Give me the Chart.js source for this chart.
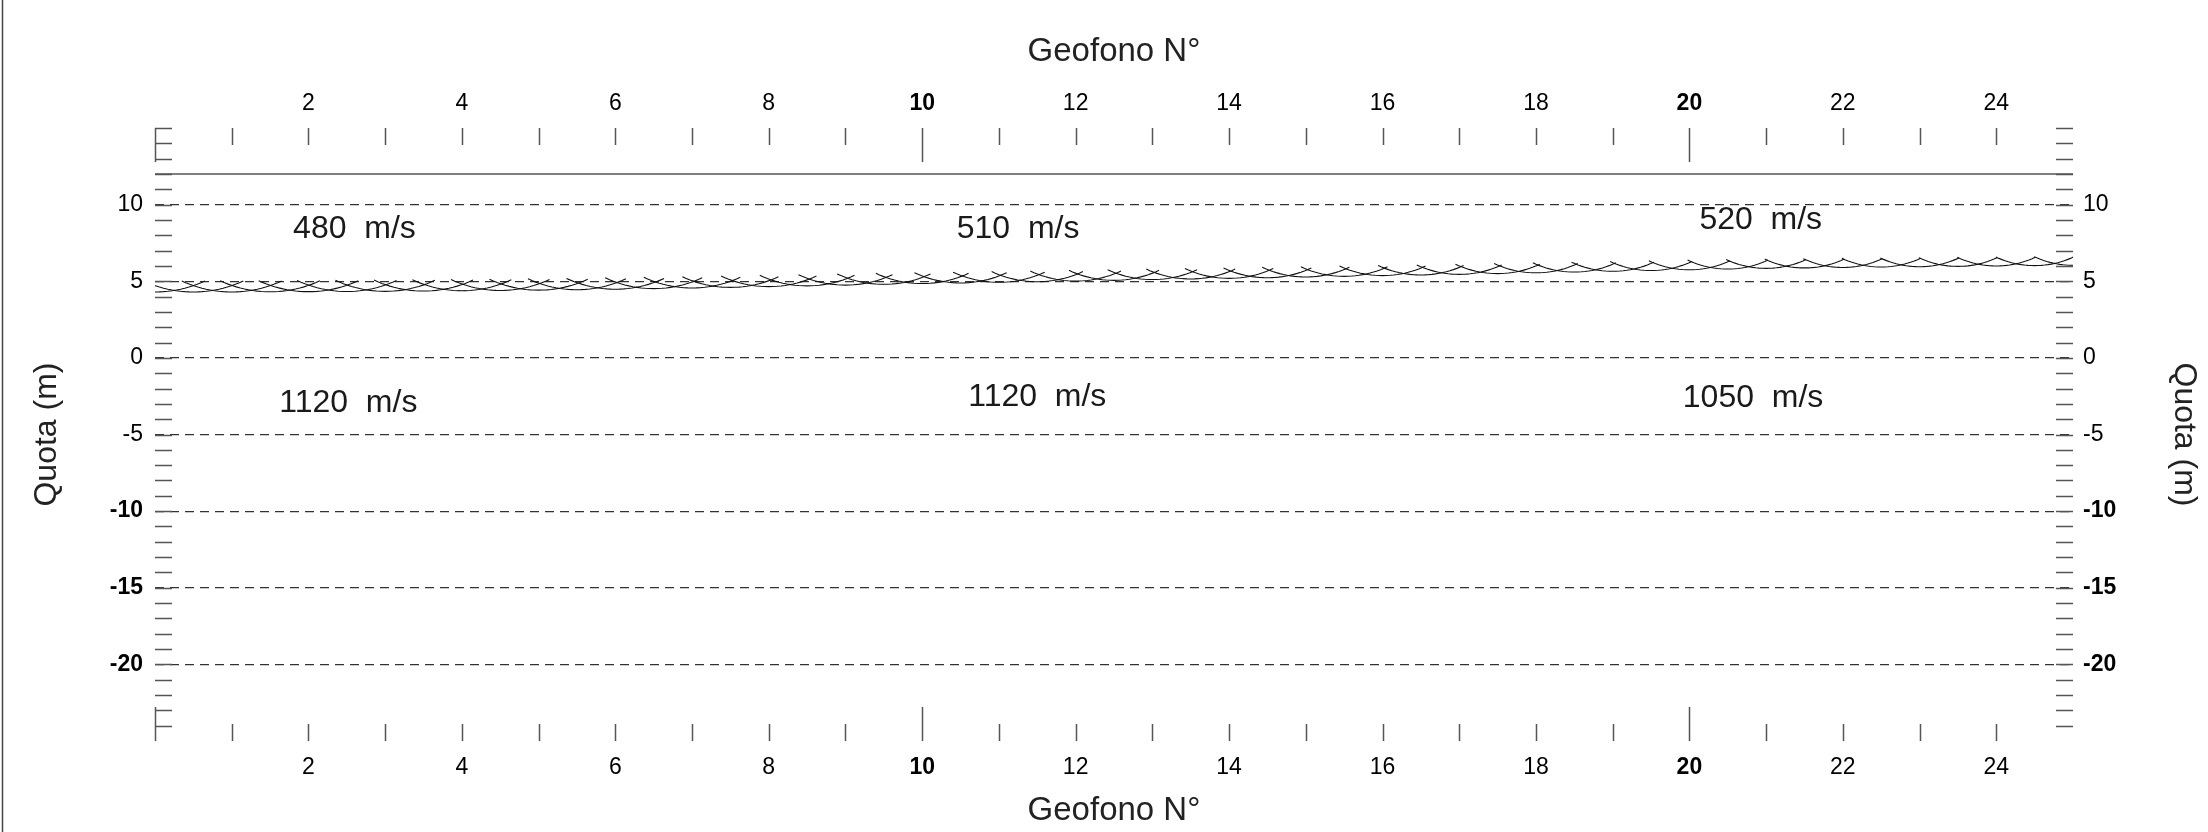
<!DOCTYPE html>
<html>
<head>
<meta charset="utf-8">
<title>Sezione sismica - Geofono N°</title>
<style>
  body { margin: 0; background: #fff; }
  .chart-container { position: relative; width: 2208px; height: 832px; }
</style>
</head>
<body>
<div class="chart-container"><canvas id="sezione"></canvas></div>

<script src="https://cdn.jsdelivr.net/npm/chart.js"></script>
<script>
// stations (geofono N°) where the delay arcs are centred
const stations = [0, 0.5, 1, 1.5, 2, 2.5, 3, 3.5, 4, 4.5, 5, 5.5, 6, 6.5, 7, 7.5, 8, 8.5, 9, 9.5,
  10, 10.5, 11, 11.5, 12, 12.5, 13, 13.5, 14, 14.5, 15, 15.5, 16, 16.5, 17, 17.5, 18, 18.5, 19, 19.5,
  20, 20.5, 21, 21.5, 22, 22.5, 23, 23.5, 24, 24.5, 25];
// quota (m) of the lowest point of each arc = refractor
const arcBottom = [4.30, 4.30, 4.30, 4.31, 4.32, 4.33, 4.34, 4.36, 4.38, 4.40, 4.42, 4.45, 4.48, 4.52, 4.56, 4.60, 4.65, 4.70, 4.75, 4.80,
  4.85, 4.89, 4.93, 4.97, 5.01, 5.06, 5.11, 5.15, 5.19, 5.23, 5.28, 5.32, 5.37, 5.41, 5.45, 5.50, 5.55, 5.60, 5.65, 5.70,
  5.75, 5.80, 5.84, 5.87, 5.90, 5.93, 5.95, 5.97, 6.00, 6.02, 6.04];

// ground surface
const surfaceX = [0, 25];
const surfaceQuota = [12, 12];

// layer velocities
const velText = ['480  m/s', '510  m/s', '520  m/s', '1120  m/s', '1120  m/s', '1050  m/s'];
const velX = [2.6, 11.25, 20.93, 2.52, 11.5, 20.83];
const velY = [8.4, 8.4, 8.97, -2.94, -2.54, -2.6];

// tick labels
const xLabels = [2, 4, 6, 8, 10, 12, 14, 16, 18, 20, 22, 24];
const yLabels = [10, 5, 0, -5, -10, -15, -20];

const FONT = '"Liberation Sans", Arial, sans-serif';
Chart.defaults.font.family = FONT;

// arcs are circles centred on the surface, radius = depth of refractor
const geoSpacing = 5;                 // m between geophones
const halfAngle = 25 * Math.PI / 180;
function arcPoints(cx, bottom) {
  const r = surfaceQuota[0] - bottom;
  const pts = [];
  for (let i = 0; i <= 24; i++) {
    const a = -halfAngle + 2 * halfAngle * i / 24;
    pts.push({ x: cx + r * Math.sin(a) / geoSpacing, y: surfaceQuota[0] - r * Math.cos(a) });
  }
  return pts;
}

const datasets = [{
  data: surfaceX.map((x, i) => ({ x: x, y: surfaceQuota[i] })),
  showLine: true, borderColor: '#555', borderWidth: 1.5, pointRadius: 0
}];
stations.forEach((s, i) => {
  datasets.push({
    data: arcPoints(s, arcBottom[i]),
    showLine: true, borderColor: '#111', borderWidth: 1.1, pointRadius: 0
  });
});

const xTickFont = ctx => ({ size: 23, weight: (ctx.tick && ctx.tick.value % 10 === 0) ? 'bold' : 'normal' });
const yTickFont = ctx => ({ size: 23, weight: (ctx.tick && ctx.tick.value <= -10) ? 'bold' : 'normal' });
const xCallback = v => xLabels.includes(v) ? String(v) : '';
const yCallback = v => yLabels.includes(v) ? String(v) : '';

const decor = {
  id: 'decor',
  afterDraw(chart) {
    const { ctx, chartArea: a, scales } = chart;
    ctx.save();
    // inward tick marks
    ctx.strokeStyle = '#555';
    ctx.lineWidth = 1.5;
    ctx.beginPath();
    scales.y.ticks.forEach(t => {
      if (t.value <= scales.y.min) return;
      const py = Math.round(scales.y.getPixelForValue(t.value)) + 0.5;
      ctx.moveTo(a.left, py); ctx.lineTo(a.left + 17, py);
      ctx.moveTo(a.right - 17, py); ctx.lineTo(a.right, py);
    });
    scales.x.ticks.forEach(t => {
      if (t.value >= scales.x.max) return;
      const px = Math.round(scales.x.getPixelForValue(t.value)) + 0.5;
      const len = t.value % 10 === 0 ? 34 : 17;
      ctx.moveTo(px, a.top); ctx.lineTo(px, a.top + len);
      ctx.moveTo(px, a.bottom); ctx.lineTo(px, a.bottom - len);
    });
    ctx.stroke();

    // frame edge on the left
    ctx.strokeStyle = '#444';
    ctx.beginPath();
    ctx.moveTo(2.5, 0); ctx.lineTo(2.5, chart.height);
    ctx.stroke();

    // velocity labels
    ctx.font = '32px ' + FONT;
    ctx.fillStyle = '#1a1a1a';
    ctx.textAlign = 'center';
    ctx.textBaseline = 'middle';
    velText.forEach((t, i) => {
      ctx.fillText(t, scales.x.getPixelForValue(velX[i]), scales.y.getPixelForValue(velY[i]));
    });
    ctx.restore();
  }
};

new Chart(document.getElementById('sezione'), {
  type: 'scatter',
  data: { datasets: datasets },
  plugins: [decor],
  options: {
    responsive: true,
    maintainAspectRatio: false,
    animation: false,
    layout: { padding: 0 },
    plugins: { legend: { display: false }, tooltip: { enabled: false } },
    scales: {
      x: {
        type: 'linear', position: 'bottom', min: 0, max: 25,
        ticks: { stepSize: 1, autoSkip: false, maxRotation: 0, maxTicksLimit: 100, padding: 13,
                 color: '#000', font: xTickFont, callback: xCallback },
        grid: { display: false, drawTicks: false },
        border: { display: false },
        title: { display: true, text: 'Geofono N°', color: '#222', font: { size: 33 }, padding: { top: 0, bottom: 1 } },
        afterFit: s => { s.height = 91; }
      },
      x2: {
        type: 'linear', position: 'top', min: 0, max: 25,
        ticks: { stepSize: 1, autoSkip: false, maxRotation: 0, maxTicksLimit: 100, padding: 11,
                 color: '#000', font: xTickFont, callback: xCallback },
        grid: { display: false, drawTicks: false },
        border: { display: false },
        title: { display: true, text: 'Geofono N°', color: '#222', font: { size: 33 }, padding: { top: 32, bottom: 0 } },
        afterFit: s => { s.height = 128; }
      },
      y: {
        type: 'linear', position: 'left', min: -25, max: 15,
        ticks: { stepSize: 1, autoSkip: false, maxTicksLimit: 100, padding: 12,
                 color: '#000', font: yTickFont, callback: yCallback },
        grid: {
          drawTicks: false, lineWidth: 1.2,
          color: ctx => yLabels.includes(ctx.tick.value) ? '#333' : 'rgba(0,0,0,0)'
        },
        border: { display: false, dash: [9, 6] },
        title: { display: true, text: 'Quota (m)', color: '#222', font: { size: 32 }, padding: { top: 28, bottom: 0 } },
        afterFit: s => { s.width = 155; }
      },
      y2: {
        type: 'linear', position: 'right', min: -25, max: 15,
        ticks: { stepSize: 1, autoSkip: false, maxTicksLimit: 100, padding: 10,
                 color: '#000', font: yTickFont, callback: yCallback },
        grid: { display: false, drawTicks: false },
        border: { display: false },
        title: { display: true, text: 'Quota (m)', color: '#222', font: { size: 32 }, padding: { top: 5, bottom: 0 } },
        afterFit: s => { s.width = 135; }
      }
    }
  }
});
</script>
</body>
</html>
